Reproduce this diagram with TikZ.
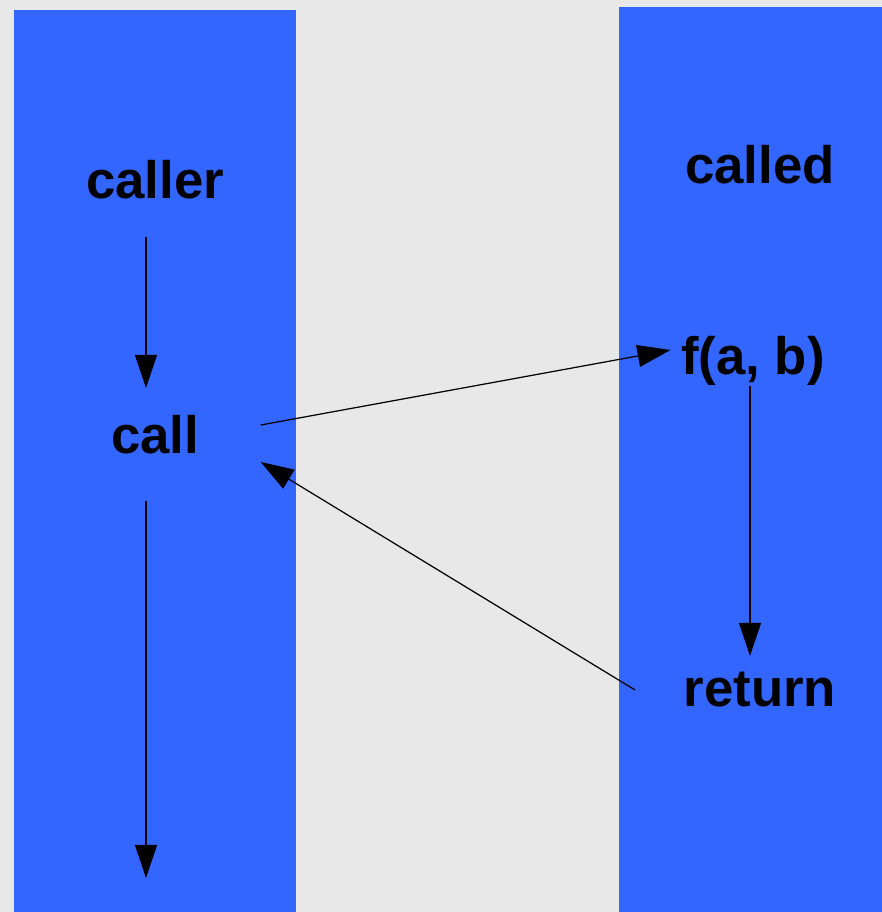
\documentclass[tikz,border=0pt]{standalone}
\usepackage{fontspec}
\setmainfont{Liberation Sans}
\usepackage{tikz}
\usetikzlibrary{positioning,calc,arrows.meta}

\definecolor{lanebg}{HTML}{E8E8E8}
\definecolor{laneblue}{HTML}{3366FF}

\tikzset{
    lbl/.style={inner sep=0pt, font=\fontsize{15}{18}\selectfont\bfseries},
    flow/.style={draw=black, line width=0.35pt, -{Triangle[length=0.33cm, width=0.22cm]}},
}

\begin{document}
\begin{tikzpicture}[x=0.01cm, y=-0.01cm]
    \useasboundingbox (0,0) rectangle (882,912);
    \fill [lanebg] (0,0) rectangle (882,912);

    % Lanes
    \fill [laneblue] (14,10) rectangle (296,912);
    \fill [laneblue] (619,7) rectangle (882,912);

    % Left lane
    \node [lbl] (caller) at (155,180) {caller};
    \node [lbl] (call) at (155,435) {call};
    \coordinate (done) at (146,878);

    % Right lane
    \node [lbl] (called) at (760,165) {called};
    \node [lbl] (fab) at (753,361) {f(a, b)};
    \node [lbl] (return) at (760,690) {return};

    % Control flow
    \draw [flow] ([shift={(-9,37)}]caller.south) -- ([shift={(-9,-27)}]call.north);
    \draw [flow] ([shift={(-9,46)}]call.south) -- (done);
    \draw [flow] ([shift={(61,-10)}]call.east) -- ([shift={(-10,-11)}]fab.west);
    \draw [flow] ([shift={(-3,0)}]fab.south) -- ([shift={(-10,-16)}]return.north);
    \draw [flow] ([shift={(-48,0)}]return.west) -- ([shift={(61,27)}]call.east);
\end{tikzpicture}
\end{document}
